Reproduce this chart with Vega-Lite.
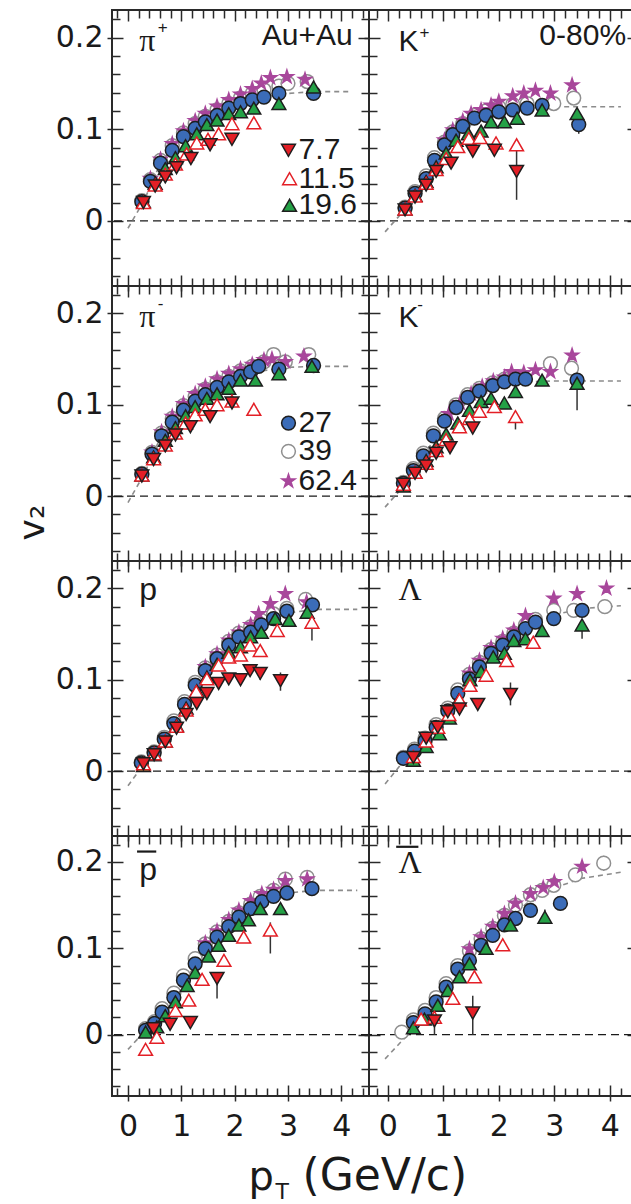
{
"$schema": "https://vega.github.io/schema/vega-lite/v6.json",
"background": "white",
"padding": {"left": 13, "top": 8, "right": 0, "bottom": 0},
"config": {
 "view": {"stroke": "#2a2a2a", "strokeWidth": 2},
 "axis": {"domain": false, "grid": false, "labels": false, "tickColor": "#2a2a2a", "tickWidth": 1.5, "labelFont": "DejaVu Sans", "labelFontSize": 30, "labelColor": "#1a1a1a", "labelOverlap": false, "labelFlush": false, "labelBound": false, "titleFont": "DejaVu Sans", "titleFontWeight": "normal", "titleColor": "#1a1a1a"}
},
"datasets": {
 "zero": [{"y": 0}],
 "pts": [
  {"panel":"pip","e":"39","x":0.26,"y":0.022},{"panel":"pip","e":"39","x":0.42,"y":0.045},{"panel":"pip","e":"39","x":0.61,"y":0.066},{"panel":"pip","e":"39","x":0.83,"y":0.082},{"panel":"pip","e":"39","x":1.04,"y":0.096},{"panel":"pip","e":"39","x":1.26,"y":0.106},{"panel":"pip","e":"39","x":1.45,"y":0.114},{"panel":"pip","e":"39","x":1.67,"y":0.121},{"panel":"pip","e":"39","x":1.89,"y":0.128},{"panel":"pip","e":"39","x":2.11,"y":0.134},{"panel":"pip","e":"39","x":2.33,"y":0.139},{"panel":"pip","e":"39","x":2.55,"y":0.143},{"panel":"pip","e":"39","x":2.83,"y":0.147},{"panel":"pip","e":"39","x":3.0,"y":0.150},{"panel":"pip","e":"39","x":3.36,"y":0.152},
  {"panel":"pip","e":"62.4","x":0.42,"y":0.046},{"panel":"pip","e":"62.4","x":0.61,"y":0.067},{"panel":"pip","e":"62.4","x":0.83,"y":0.084},{"panel":"pip","e":"62.4","x":1.04,"y":0.098},{"panel":"pip","e":"62.4","x":1.26,"y":0.109},{"panel":"pip","e":"62.4","x":1.45,"y":0.117},{"panel":"pip","e":"62.4","x":1.67,"y":0.125},{"panel":"pip","e":"62.4","x":1.89,"y":0.132},{"panel":"pip","e":"62.4","x":2.11,"y":0.138},{"panel":"pip","e":"62.4","x":2.33,"y":0.144},{"panel":"pip","e":"62.4","x":2.5,"y":0.150},{"panel":"pip","e":"62.4","x":2.67,"y":0.156},{"panel":"pip","e":"62.4","x":2.98,"y":0.157},{"panel":"pip","e":"62.4","x":3.32,"y":0.154},
  {"panel":"pip","e":"27","x":0.26,"y":0.021},{"panel":"pip","e":"27","x":0.42,"y":0.043},{"panel":"pip","e":"27","x":0.61,"y":0.063},{"panel":"pip","e":"27","x":0.83,"y":0.077},{"panel":"pip","e":"27","x":1.04,"y":0.092},{"panel":"pip","e":"27","x":1.26,"y":0.101},{"panel":"pip","e":"27","x":1.45,"y":0.108},{"panel":"pip","e":"27","x":1.67,"y":0.115},{"panel":"pip","e":"27","x":1.89,"y":0.123},{"panel":"pip","e":"27","x":2.11,"y":0.128},{"panel":"pip","e":"27","x":2.33,"y":0.132},{"panel":"pip","e":"27","x":2.55,"y":0.135},{"panel":"pip","e":"27","x":2.83,"y":0.139},{"panel":"pip","e":"27","x":3.48,"y":0.139},
  {"panel":"pip","e":"19.6","x":0.29,"y":0.021},{"panel":"pip","e":"19.6","x":0.51,"y":0.041},{"panel":"pip","e":"19.6","x":0.70,"y":0.057},{"panel":"pip","e":"19.6","x":0.89,"y":0.069},{"panel":"pip","e":"19.6","x":1.08,"y":0.082},{"panel":"pip","e":"19.6","x":1.29,"y":0.095},{"panel":"pip","e":"19.6","x":1.48,"y":0.105},{"panel":"pip","e":"19.6","x":1.67,"y":0.110},{"panel":"pip","e":"19.6","x":1.89,"y":0.117},{"panel":"pip","e":"19.6","x":2.11,"y":0.119},{"panel":"pip","e":"19.6","x":2.36,"y":0.123},{"panel":"pip","e":"19.6","x":2.83,"y":0.128},{"panel":"pip","e":"19.6","x":3.48,"y":0.146},
  {"panel":"pip","e":"11.5","x":0.29,"y":0.020},{"panel":"pip","e":"11.5","x":0.51,"y":0.039},{"panel":"pip","e":"11.5","x":0.70,"y":0.051},{"panel":"pip","e":"11.5","x":0.89,"y":0.062},{"panel":"pip","e":"11.5","x":1.10,"y":0.073},{"panel":"pip","e":"11.5","x":1.29,"y":0.085},{"panel":"pip","e":"11.5","x":1.50,"y":0.089},{"panel":"pip","e":"11.5","x":1.70,"y":0.095},{"panel":"pip","e":"11.5","x":1.95,"y":0.106},{"panel":"pip","e":"11.5","x":2.36,"y":0.107},
  {"panel":"pip","e":"7.7","x":0.29,"y":0.020},{"panel":"pip","e":"7.7","x":0.51,"y":0.038},{"panel":"pip","e":"7.7","x":0.70,"y":0.048},{"panel":"pip","e":"7.7","x":0.91,"y":0.058},{"panel":"pip","e":"7.7","x":1.18,"y":0.068},{"panel":"pip","e":"7.7","x":1.54,"y":0.083},{"panel":"pip","e":"7.7","x":1.95,"y":0.089},

  {"panel":"kp","e":"39","x":0.31,"y":0.015},{"panel":"kp","e":"39","x":0.49,"y":0.032},{"panel":"kp","e":"39","x":0.69,"y":0.049},{"panel":"kp","e":"39","x":0.84,"y":0.069},{"panel":"kp","e":"39","x":1.02,"y":0.086},{"panel":"kp","e":"39","x":1.17,"y":0.097},{"panel":"kp","e":"39","x":1.35,"y":0.106},{"panel":"kp","e":"39","x":1.56,"y":0.115},{"panel":"kp","e":"39","x":1.77,"y":0.120},{"panel":"kp","e":"39","x":2.0,"y":0.124},{"panel":"kp","e":"39","x":2.25,"y":0.127},{"panel":"kp","e":"39","x":2.51,"y":0.128},{"panel":"kp","e":"39","x":2.99,"y":0.128},{"panel":"kp","e":"39","x":3.35,"y":0.134},
  {"panel":"kp","e":"62.4","x":1.02,"y":0.088},{"panel":"kp","e":"62.4","x":1.17,"y":0.099},{"panel":"kp","e":"62.4","x":1.35,"y":0.109},{"panel":"kp","e":"62.4","x":1.5,"y":0.117},{"panel":"kp","e":"62.4","x":1.68,"y":0.121},{"panel":"kp","e":"62.4","x":1.86,"y":0.126},{"panel":"kp","e":"62.4","x":2.0,"y":0.130},{"panel":"kp","e":"62.4","x":2.25,"y":0.136},{"panel":"kp","e":"62.4","x":2.45,"y":0.139},{"panel":"kp","e":"62.4","x":2.66,"y":0.142},{"panel":"kp","e":"62.4","x":2.93,"y":0.139},{"panel":"kp","e":"62.4","x":3.32,"y":0.148},
  {"panel":"kp","e":"27","x":0.31,"y":0.014},{"panel":"kp","e":"27","x":0.49,"y":0.030},{"panel":"kp","e":"27","x":0.69,"y":0.046},{"panel":"kp","e":"27","x":0.84,"y":0.066},{"panel":"kp","e":"27","x":1.02,"y":0.083},{"panel":"kp","e":"27","x":1.17,"y":0.094},{"panel":"kp","e":"27","x":1.35,"y":0.103},{"panel":"kp","e":"27","x":1.56,"y":0.112},{"panel":"kp","e":"27","x":1.77,"y":0.115},{"panel":"kp","e":"27","x":2.0,"y":0.119},{"panel":"kp","e":"27","x":2.25,"y":0.121},{"panel":"kp","e":"27","x":2.51,"y":0.123},{"panel":"kp","e":"27","x":2.78,"y":0.126},{"panel":"kp","e":"27","x":3.44,"y":0.105},
  {"panel":"kp","e":"19.6","x":0.31,"y":0.013},{"panel":"kp","e":"19.6","x":0.49,"y":0.028},{"panel":"kp","e":"19.6","x":0.69,"y":0.043},{"panel":"kp","e":"19.6","x":0.87,"y":0.059},{"panel":"kp","e":"19.6","x":1.05,"y":0.074},{"panel":"kp","e":"19.6","x":1.23,"y":0.088},{"panel":"kp","e":"19.6","x":1.45,"y":0.095},{"panel":"kp","e":"19.6","x":1.68,"y":0.098},{"panel":"kp","e":"19.6","x":1.86,"y":0.108},{"panel":"kp","e":"19.6","x":2.10,"y":0.108},{"panel":"kp","e":"19.6","x":2.33,"y":0.112},{"panel":"kp","e":"19.6","x":2.78,"y":0.121},{"panel":"kp","e":"19.6","x":3.41,"y":0.117},
  {"panel":"kp","e":"11.5","x":0.31,"y":0.013},{"panel":"kp","e":"11.5","x":0.49,"y":0.027},{"panel":"kp","e":"11.5","x":0.69,"y":0.041},{"panel":"kp","e":"11.5","x":0.87,"y":0.056},{"panel":"kp","e":"11.5","x":1.05,"y":0.068},{"panel":"kp","e":"11.5","x":1.26,"y":0.081},{"panel":"kp","e":"11.5","x":1.46,"y":0.090},{"panel":"kp","e":"11.5","x":1.66,"y":0.091},{"panel":"kp","e":"11.5","x":1.95,"y":0.085},{"panel":"kp","e":"11.5","x":2.32,"y":0.083},
  {"panel":"kp","e":"7.7","x":0.31,"y":0.012},{"panel":"kp","e":"7.7","x":0.49,"y":0.026},{"panel":"kp","e":"7.7","x":0.69,"y":0.039},{"panel":"kp","e":"7.7","x":0.87,"y":0.054},{"panel":"kp","e":"7.7","x":1.14,"y":0.063},{"panel":"kp","e":"7.7","x":1.53,"y":0.076},{"panel":"kp","e":"7.7","x":1.92,"y":0.077},{"panel":"kp","e":"7.7","x":2.32,"y":0.054},

  {"panel":"pim","e":"39","x":0.26,"y":0.025},{"panel":"pim","e":"39","x":0.45,"y":0.048},{"panel":"pim","e":"39","x":0.63,"y":0.069},{"panel":"pim","e":"39","x":0.83,"y":0.085},{"panel":"pim","e":"39","x":1.04,"y":0.099},{"panel":"pim","e":"39","x":1.26,"y":0.109},{"panel":"pim","e":"39","x":1.45,"y":0.117},{"panel":"pim","e":"39","x":1.67,"y":0.125},{"panel":"pim","e":"39","x":1.89,"y":0.131},{"panel":"pim","e":"39","x":2.11,"y":0.137},{"panel":"pim","e":"39","x":2.33,"y":0.142},{"panel":"pim","e":"39","x":2.55,"y":0.147},{"panel":"pim","e":"39","x":2.73,"y":0.155},{"panel":"pim","e":"39","x":2.95,"y":0.147},{"panel":"pim","e":"39","x":3.39,"y":0.155},
  {"panel":"pim","e":"62.4","x":0.45,"y":0.048},{"panel":"pim","e":"62.4","x":0.63,"y":0.070},{"panel":"pim","e":"62.4","x":0.83,"y":0.087},{"panel":"pim","e":"62.4","x":1.04,"y":0.101},{"panel":"pim","e":"62.4","x":1.26,"y":0.112},{"panel":"pim","e":"62.4","x":1.45,"y":0.120},{"panel":"pim","e":"62.4","x":1.67,"y":0.128},{"panel":"pim","e":"62.4","x":1.89,"y":0.134},{"panel":"pim","e":"62.4","x":2.11,"y":0.139},{"panel":"pim","e":"62.4","x":2.33,"y":0.144},{"panel":"pim","e":"62.4","x":2.55,"y":0.149},{"panel":"pim","e":"62.4","x":2.70,"y":0.150},{"panel":"pim","e":"62.4","x":2.95,"y":0.147},{"panel":"pim","e":"62.4","x":3.30,"y":0.153},
  {"panel":"pim","e":"27","x":0.26,"y":0.024},{"panel":"pim","e":"27","x":0.45,"y":0.046},{"panel":"pim","e":"27","x":0.63,"y":0.066},{"panel":"pim","e":"27","x":0.83,"y":0.081},{"panel":"pim","e":"27","x":1.04,"y":0.094},{"panel":"pim","e":"27","x":1.26,"y":0.104},{"panel":"pim","e":"27","x":1.45,"y":0.111},{"panel":"pim","e":"27","x":1.67,"y":0.119},{"panel":"pim","e":"27","x":1.89,"y":0.125},{"panel":"pim","e":"27","x":2.11,"y":0.131},{"panel":"pim","e":"27","x":2.30,"y":0.136},{"panel":"pim","e":"27","x":2.45,"y":0.142},{"panel":"pim","e":"27","x":2.83,"y":0.139},{"panel":"pim","e":"27","x":3.48,"y":0.143},
  {"panel":"pim","e":"19.6","x":0.26,"y":0.023},{"panel":"pim","e":"19.6","x":0.48,"y":0.043},{"panel":"pim","e":"19.6","x":0.70,"y":0.061},{"panel":"pim","e":"19.6","x":0.89,"y":0.075},{"panel":"pim","e":"19.6","x":1.08,"y":0.088},{"panel":"pim","e":"19.6","x":1.26,"y":0.098},{"panel":"pim","e":"19.6","x":1.48,"y":0.107},{"panel":"pim","e":"19.6","x":1.67,"y":0.112},{"panel":"pim","e":"19.6","x":1.89,"y":0.118},{"panel":"pim","e":"19.6","x":2.11,"y":0.127},{"panel":"pim","e":"19.6","x":2.39,"y":0.127},{"panel":"pim","e":"19.6","x":2.83,"y":0.134},{"panel":"pim","e":"19.6","x":3.45,"y":0.142},
  {"panel":"pim","e":"11.5","x":0.26,"y":0.023},{"panel":"pim","e":"11.5","x":0.48,"y":0.041},{"panel":"pim","e":"11.5","x":0.70,"y":0.056},{"panel":"pim","e":"11.5","x":0.89,"y":0.069},{"panel":"pim","e":"11.5","x":1.08,"y":0.080},{"panel":"pim","e":"11.5","x":1.26,"y":0.089},{"panel":"pim","e":"11.5","x":1.45,"y":0.095},{"panel":"pim","e":"11.5","x":1.67,"y":0.100},{"panel":"pim","e":"11.5","x":1.95,"y":0.104},{"panel":"pim","e":"11.5","x":2.36,"y":0.095},
  {"panel":"pim","e":"7.7","x":0.26,"y":0.022},{"panel":"pim","e":"7.7","x":0.48,"y":0.040},{"panel":"pim","e":"7.7","x":0.70,"y":0.055},{"panel":"pim","e":"7.7","x":0.89,"y":0.067},{"panel":"pim","e":"7.7","x":1.17,"y":0.076},{"panel":"pim","e":"7.7","x":1.54,"y":0.087},{"panel":"pim","e":"7.7","x":1.95,"y":0.102},

  {"panel":"km","e":"39","x":0.28,"y":0.015},{"panel":"km","e":"39","x":0.46,"y":0.030},{"panel":"km","e":"39","x":0.64,"y":0.047},{"panel":"km","e":"39","x":0.82,"y":0.069},{"panel":"km","e":"39","x":1.02,"y":0.085},{"panel":"km","e":"39","x":1.23,"y":0.100},{"panel":"km","e":"39","x":1.44,"y":0.111},{"panel":"km","e":"39","x":1.65,"y":0.118},{"panel":"km","e":"39","x":1.89,"y":0.124},{"panel":"km","e":"39","x":2.10,"y":0.128},{"panel":"km","e":"39","x":2.40,"y":0.131},{"panel":"km","e":"39","x":2.93,"y":0.145},{"panel":"km","e":"39","x":3.31,"y":0.140},
  {"panel":"km","e":"62.4","x":1.1,"y":0.090},{"panel":"km","e":"62.4","x":1.3,"y":0.102},{"panel":"km","e":"62.4","x":1.5,"y":0.112},{"panel":"km","e":"62.4","x":1.7,"y":0.120},{"panel":"km","e":"62.4","x":1.9,"y":0.126},{"panel":"km","e":"62.4","x":2.1,"y":0.130},{"panel":"km","e":"62.4","x":2.23,"y":0.136},{"panel":"km","e":"62.4","x":2.45,"y":0.135},{"panel":"km","e":"62.4","x":2.66,"y":0.138},{"panel":"km","e":"62.4","x":2.93,"y":0.136},{"panel":"km","e":"62.4","x":3.32,"y":0.154},
  {"panel":"km","e":"27","x":0.28,"y":0.014},{"panel":"km","e":"27","x":0.46,"y":0.028},{"panel":"km","e":"27","x":0.64,"y":0.044},{"panel":"km","e":"27","x":0.82,"y":0.066},{"panel":"km","e":"27","x":1.02,"y":0.082},{"panel":"km","e":"27","x":1.23,"y":0.097},{"panel":"km","e":"27","x":1.44,"y":0.108},{"panel":"km","e":"27","x":1.65,"y":0.115},{"panel":"km","e":"27","x":1.89,"y":0.121},{"panel":"km","e":"27","x":2.10,"y":0.125},{"panel":"km","e":"27","x":2.30,"y":0.128},{"panel":"km","e":"27","x":2.48,"y":0.128},{"panel":"km","e":"27","x":3.41,"y":0.127},
  {"panel":"km","e":"19.6","x":0.28,"y":0.011},{"panel":"km","e":"19.6","x":0.49,"y":0.026},{"panel":"km","e":"19.6","x":0.69,"y":0.039},{"panel":"km","e":"19.6","x":0.87,"y":0.054},{"panel":"km","e":"19.6","x":1.05,"y":0.068},{"panel":"km","e":"19.6","x":1.26,"y":0.080},{"panel":"km","e":"19.6","x":1.47,"y":0.094},{"panel":"km","e":"19.6","x":1.68,"y":0.1035},{"panel":"km","e":"19.6","x":1.86,"y":0.107},{"panel":"km","e":"19.6","x":2.10,"y":0.102},{"panel":"km","e":"19.6","x":2.30,"y":0.1145},{"panel":"km","e":"19.6","x":2.78,"y":0.127},{"panel":"km","e":"19.6","x":3.41,"y":0.1235},
  {"panel":"km","e":"11.5","x":0.28,"y":0.013},{"panel":"km","e":"11.5","x":0.49,"y":0.026},{"panel":"km","e":"11.5","x":0.69,"y":0.036},{"panel":"km","e":"11.5","x":0.87,"y":0.050},{"panel":"km","e":"11.5","x":1.05,"y":0.062},{"panel":"km","e":"11.5","x":1.29,"y":0.076},{"panel":"km","e":"11.5","x":1.47,"y":0.085},{"panel":"km","e":"11.5","x":1.65,"y":0.093},{"panel":"km","e":"11.5","x":1.92,"y":0.098},{"panel":"km","e":"11.5","x":2.30,"y":0.087},
  {"panel":"km","e":"7.7","x":0.28,"y":0.013},{"panel":"km","e":"7.7","x":0.49,"y":0.025},{"panel":"km","e":"7.7","x":0.69,"y":0.033},{"panel":"km","e":"7.7","x":0.87,"y":0.047},{"panel":"km","e":"7.7","x":1.12,"y":0.053},{"panel":"km","e":"7.7","x":1.53,"y":0.0745},

  {"panel":"p","e":"39","x":0.25,"y":0.010},{"panel":"p","e":"39","x":0.49,"y":0.021},{"panel":"p","e":"39","x":0.68,"y":0.037},{"panel":"p","e":"39","x":0.86,"y":0.055},{"panel":"p","e":"39","x":1.06,"y":0.076},{"panel":"p","e":"39","x":1.26,"y":0.097},{"panel":"p","e":"39","x":1.45,"y":0.113},{"panel":"p","e":"39","x":1.67,"y":0.127},{"panel":"p","e":"39","x":1.89,"y":0.142},{"panel":"p","e":"39","x":2.08,"y":0.151},{"panel":"p","e":"39","x":2.30,"y":0.158},{"panel":"p","e":"39","x":2.50,"y":0.165},{"panel":"p","e":"39","x":2.73,"y":0.172},{"panel":"p","e":"39","x":2.98,"y":0.178},{"panel":"p","e":"39","x":3.33,"y":0.188},
  {"panel":"p","e":"62.4","x":1.45,"y":0.114},{"panel":"p","e":"62.4","x":1.67,"y":0.128},{"panel":"p","e":"62.4","x":1.89,"y":0.143},{"panel":"p","e":"62.4","x":2.08,"y":0.152},{"panel":"p","e":"62.4","x":2.30,"y":0.160},{"panel":"p","e":"62.4","x":2.45,"y":0.172},{"panel":"p","e":"62.4","x":2.67,"y":0.183},{"panel":"p","e":"62.4","x":2.95,"y":0.194},{"panel":"p","e":"62.4","x":3.35,"y":0.185},
  {"panel":"p","e":"27","x":0.25,"y":0.009},{"panel":"p","e":"27","x":0.49,"y":0.020},{"panel":"p","e":"27","x":0.68,"y":0.035},{"panel":"p","e":"27","x":0.86,"y":0.052},{"panel":"p","e":"27","x":1.06,"y":0.073},{"panel":"p","e":"27","x":1.26,"y":0.094},{"panel":"p","e":"27","x":1.45,"y":0.110},{"panel":"p","e":"27","x":1.67,"y":0.123},{"panel":"p","e":"27","x":1.89,"y":0.138},{"panel":"p","e":"27","x":2.08,"y":0.147},{"panel":"p","e":"27","x":2.30,"y":0.152},{"panel":"p","e":"27","x":2.50,"y":0.160},{"panel":"p","e":"27","x":2.73,"y":0.167},{"panel":"p","e":"27","x":2.98,"y":0.175},{"panel":"p","e":"27","x":3.46,"y":0.182},
  {"panel":"p","e":"19.6","x":0.29,"y":0.006},{"panel":"p","e":"19.6","x":0.49,"y":0.018},{"panel":"p","e":"19.6","x":0.70,"y":0.033},{"panel":"p","e":"19.6","x":0.91,"y":0.050},{"panel":"p","e":"19.6","x":1.09,"y":0.069},{"panel":"p","e":"19.6","x":1.29,"y":0.088},{"panel":"p","e":"19.6","x":1.48,"y":0.103},{"panel":"p","e":"19.6","x":1.67,"y":0.117},{"panel":"p","e":"19.6","x":1.89,"y":0.130},{"panel":"p","e":"19.6","x":2.11,"y":0.136},{"panel":"p","e":"19.6","x":2.30,"y":0.147},{"panel":"p","e":"19.6","x":2.50,"y":0.152},{"panel":"p","e":"19.6","x":2.76,"y":0.167},{"panel":"p","e":"19.6","x":3.02,"y":0.165},{"panel":"p","e":"19.6","x":3.36,"y":0.174},
  {"panel":"p","e":"11.5","x":0.29,"y":0.008},{"panel":"p","e":"11.5","x":0.49,"y":0.019},{"panel":"p","e":"11.5","x":0.70,"y":0.033},{"panel":"p","e":"11.5","x":0.91,"y":0.049},{"panel":"p","e":"11.5","x":1.09,"y":0.067},{"panel":"p","e":"11.5","x":1.28,"y":0.087},{"panel":"p","e":"11.5","x":1.48,"y":0.101},{"panel":"p","e":"11.5","x":1.70,"y":0.116},{"panel":"p","e":"11.5","x":1.89,"y":0.125},{"panel":"p","e":"11.5","x":2.11,"y":0.127},{"panel":"p","e":"11.5","x":2.29,"y":0.138},{"panel":"p","e":"11.5","x":2.48,"y":0.132},{"panel":"p","e":"11.5","x":2.80,"y":0.154},{"panel":"p","e":"11.5","x":3.45,"y":0.163},
  {"panel":"p","e":"7.7","x":0.29,"y":0.008},{"panel":"p","e":"7.7","x":0.49,"y":0.018},{"panel":"p","e":"7.7","x":0.70,"y":0.032},{"panel":"p","e":"7.7","x":0.91,"y":0.047},{"panel":"p","e":"7.7","x":1.09,"y":0.062},{"panel":"p","e":"7.7","x":1.29,"y":0.074},{"panel":"p","e":"7.7","x":1.48,"y":0.085},{"panel":"p","e":"7.7","x":1.70,"y":0.096},{"panel":"p","e":"7.7","x":1.89,"y":0.101},{"panel":"p","e":"7.7","x":2.11,"y":0.100},{"panel":"p","e":"7.7","x":2.29,"y":0.110},{"panel":"p","e":"7.7","x":2.48,"y":0.107},{"panel":"p","e":"7.7","x":2.86,"y":0.099},

  {"panel":"lam","e":"39","x":0.28,"y":0.015},{"panel":"lam","e":"39","x":0.48,"y":0.024},{"panel":"lam","e":"39","x":0.67,"y":0.036},{"panel":"lam","e":"39","x":0.87,"y":0.051},{"panel":"lam","e":"39","x":1.08,"y":0.069},{"panel":"lam","e":"39","x":1.26,"y":0.089},{"panel":"lam","e":"39","x":1.47,"y":0.106},{"panel":"lam","e":"39","x":1.65,"y":0.119},{"panel":"lam","e":"39","x":1.86,"y":0.133},{"panel":"lam","e":"39","x":2.07,"y":0.142},{"panel":"lam","e":"39","x":2.27,"y":0.151},{"panel":"lam","e":"39","x":2.48,"y":0.160},{"panel":"lam","e":"39","x":2.66,"y":0.166},{"panel":"lam","e":"39","x":2.99,"y":0.176},{"panel":"lam","e":"39","x":3.35,"y":0.176},{"panel":"lam","e":"39","x":3.91,"y":0.180},
  {"panel":"lam","e":"62.4","x":1.47,"y":0.107},{"panel":"lam","e":"62.4","x":1.65,"y":0.121},{"panel":"lam","e":"62.4","x":1.86,"y":0.135},{"panel":"lam","e":"62.4","x":2.07,"y":0.145},{"panel":"lam","e":"62.4","x":2.27,"y":0.154},{"panel":"lam","e":"62.4","x":2.48,"y":0.170},{"panel":"lam","e":"62.4","x":2.99,"y":0.189},{"panel":"lam","e":"62.4","x":3.41,"y":0.194},{"panel":"lam","e":"62.4","x":3.94,"y":0.200},
  {"panel":"lam","e":"27","x":0.28,"y":0.014},{"panel":"lam","e":"27","x":0.48,"y":0.022},{"panel":"lam","e":"27","x":0.67,"y":0.033},{"panel":"lam","e":"27","x":0.87,"y":0.048},{"panel":"lam","e":"27","x":1.08,"y":0.066},{"panel":"lam","e":"27","x":1.26,"y":0.085},{"panel":"lam","e":"27","x":1.47,"y":0.101},{"panel":"lam","e":"27","x":1.65,"y":0.114},{"panel":"lam","e":"27","x":1.86,"y":0.129},{"panel":"lam","e":"27","x":2.07,"y":0.138},{"panel":"lam","e":"27","x":2.27,"y":0.147},{"panel":"lam","e":"27","x":2.48,"y":0.156},{"panel":"lam","e":"27","x":2.66,"y":0.163},{"panel":"lam","e":"27","x":2.99,"y":0.167},{"panel":"lam","e":"27","x":3.50,"y":0.176},
  {"panel":"lam","e":"19.6","x":0.46,"y":0.012},{"panel":"lam","e":"19.6","x":0.69,"y":0.027},{"panel":"lam","e":"19.6","x":0.93,"y":0.041},{"panel":"lam","e":"19.6","x":1.11,"y":0.058},{"panel":"lam","e":"19.6","x":1.28,"y":0.078},{"panel":"lam","e":"19.6","x":1.48,"y":0.100},{"panel":"lam","e":"19.6","x":1.68,"y":0.109},{"panel":"lam","e":"19.6","x":1.90,"y":0.125},{"panel":"lam","e":"19.6","x":2.10,"y":0.129},{"panel":"lam","e":"19.6","x":2.27,"y":0.143},{"panel":"lam","e":"19.6","x":2.48,"y":0.145},{"panel":"lam","e":"19.6","x":2.78,"y":0.154},{"panel":"lam","e":"19.6","x":3.50,"y":0.160},
  {"panel":"lam","e":"11.5","x":0.46,"y":0.016},{"panel":"lam","e":"11.5","x":0.69,"y":0.033},{"panel":"lam","e":"11.5","x":0.90,"y":0.048},{"panel":"lam","e":"11.5","x":1.10,"y":0.062},{"panel":"lam","e":"11.5","x":1.29,"y":0.078},{"panel":"lam","e":"11.5","x":1.48,"y":0.094},{"panel":"lam","e":"11.5","x":1.77,"y":0.105},{"panel":"lam","e":"11.5","x":2.14,"y":0.121},{"panel":"lam","e":"11.5","x":2.62,"y":0.141},
  {"panel":"lam","e":"7.7","x":0.46,"y":0.015},{"panel":"lam","e":"7.7","x":0.69,"y":0.036},{"panel":"lam","e":"7.7","x":0.90,"y":0.048},{"panel":"lam","e":"7.7","x":1.08,"y":0.065},{"panel":"lam","e":"7.7","x":1.29,"y":0.068},{"panel":"lam","e":"7.7","x":1.62,"y":0.073},{"panel":"lam","e":"7.7","x":2.21,"y":0.084},

  {"panel":"pbar","e":"39","x":0.33,"y":0.007},{"panel":"pbar","e":"39","x":0.50,"y":0.015},{"panel":"pbar","e":"39","x":0.64,"y":0.030},{"panel":"pbar","e":"39","x":0.86,"y":0.048},{"panel":"pbar","e":"39","x":1.04,"y":0.068},{"panel":"pbar","e":"39","x":1.26,"y":0.088},{"panel":"pbar","e":"39","x":1.45,"y":0.105},{"panel":"pbar","e":"39","x":1.67,"y":0.119},{"panel":"pbar","e":"39","x":1.89,"y":0.131},{"panel":"pbar","e":"39","x":2.08,"y":0.141},{"panel":"pbar","e":"39","x":2.30,"y":0.151},{"panel":"pbar","e":"39","x":2.48,"y":0.160},{"panel":"pbar","e":"39","x":2.73,"y":0.167},{"panel":"pbar","e":"39","x":2.95,"y":0.180},{"panel":"pbar","e":"39","x":3.36,"y":0.182},
  {"panel":"pbar","e":"62.4","x":1.45,"y":0.106},{"panel":"pbar","e":"62.4","x":1.67,"y":0.120},{"panel":"pbar","e":"62.4","x":1.89,"y":0.133},{"panel":"pbar","e":"62.4","x":2.08,"y":0.144},{"panel":"pbar","e":"62.4","x":2.30,"y":0.155},{"panel":"pbar","e":"62.4","x":2.51,"y":0.163},{"panel":"pbar","e":"62.4","x":2.73,"y":0.168},{"panel":"pbar","e":"62.4","x":2.95,"y":0.178},{"panel":"pbar","e":"62.4","x":3.36,"y":0.180},
  {"panel":"pbar","e":"27","x":0.33,"y":0.005},{"panel":"pbar","e":"27","x":0.50,"y":0.013},{"panel":"pbar","e":"27","x":0.64,"y":0.026},{"panel":"pbar","e":"27","x":0.86,"y":0.043},{"panel":"pbar","e":"27","x":1.04,"y":0.063},{"panel":"pbar","e":"27","x":1.26,"y":0.082},{"panel":"pbar","e":"27","x":1.45,"y":0.0997},{"panel":"pbar","e":"27","x":1.67,"y":0.113},{"panel":"pbar","e":"27","x":1.89,"y":0.125},{"panel":"pbar","e":"27","x":2.08,"y":0.136},{"panel":"pbar","e":"27","x":2.30,"y":0.146},{"panel":"pbar","e":"27","x":2.51,"y":0.154},{"panel":"pbar","e":"27","x":2.73,"y":0.160},{"panel":"pbar","e":"27","x":2.98,"y":0.164},{"panel":"pbar","e":"27","x":3.45,"y":0.169},
  {"panel":"pbar","e":"19.6","x":0.33,"y":0.003},{"panel":"pbar","e":"19.6","x":0.54,"y":0.009},{"panel":"pbar","e":"19.6","x":0.70,"y":0.022},{"panel":"pbar","e":"19.6","x":0.89,"y":0.038},{"panel":"pbar","e":"19.6","x":1.11,"y":0.057},{"panel":"pbar","e":"19.6","x":1.26,"y":0.072},{"panel":"pbar","e":"19.6","x":1.51,"y":0.091},{"panel":"pbar","e":"19.6","x":1.70,"y":0.1035},{"panel":"pbar","e":"19.6","x":1.89,"y":0.115},{"panel":"pbar","e":"19.6","x":2.08,"y":0.127},{"panel":"pbar","e":"19.6","x":2.26,"y":0.133},{"panel":"pbar","e":"19.6","x":2.48,"y":0.146},{"panel":"pbar","e":"19.6","x":2.86,"y":0.146},
  {"panel":"pbar","e":"11.5","x":0.33,"y":-0.017},{"panel":"pbar","e":"11.5","x":0.54,"y":-0.003},{"panel":"pbar","e":"11.5","x":0.89,"y":0.028},{"panel":"pbar","e":"11.5","x":1.14,"y":0.040},{"panel":"pbar","e":"11.5","x":1.39,"y":0.064},{"panel":"pbar","e":"11.5","x":1.80,"y":0.086},{"panel":"pbar","e":"11.5","x":2.17,"y":0.113},{"panel":"pbar","e":"11.5","x":2.67,"y":0.121},
  {"panel":"pbar","e":"7.7","x":0.48,"y":0.007},{"panel":"pbar","e":"7.7","x":0.79,"y":0.012},{"panel":"pbar","e":"7.7","x":1.17,"y":0.014},{"panel":"pbar","e":"7.7","x":1.67,"y":0.065},

  {"panel":"lbar","e":"39","x":0.25,"y":0.003},{"panel":"lbar","e":"39","x":0.46,"y":0.017},{"panel":"lbar","e":"39","x":0.67,"y":0.028},{"panel":"lbar","e":"39","x":0.87,"y":0.043},{"panel":"lbar","e":"39","x":1.05,"y":0.059},{"panel":"lbar","e":"39","x":1.26,"y":0.080},{"panel":"lbar","e":"39","x":1.47,"y":0.097},{"panel":"lbar","e":"39","x":1.68,"y":0.111},{"panel":"lbar","e":"39","x":1.89,"y":0.123},{"panel":"lbar","e":"39","x":2.10,"y":0.138},{"panel":"lbar","e":"39","x":2.30,"y":0.150},{"panel":"lbar","e":"39","x":2.57,"y":0.162},{"panel":"lbar","e":"39","x":2.78,"y":0.167},{"panel":"lbar","e":"39","x":2.99,"y":0.173},{"panel":"lbar","e":"39","x":3.38,"y":0.185},{"panel":"lbar","e":"39","x":3.89,"y":0.1985},
  {"panel":"lbar","e":"62.4","x":1.47,"y":0.099},{"panel":"lbar","e":"62.4","x":1.68,"y":0.113},{"panel":"lbar","e":"62.4","x":1.89,"y":0.125},{"panel":"lbar","e":"62.4","x":2.10,"y":0.140},{"panel":"lbar","e":"62.4","x":2.30,"y":0.152},{"panel":"lbar","e":"62.4","x":2.57,"y":0.163},{"panel":"lbar","e":"62.4","x":2.80,"y":0.170},{"panel":"lbar","e":"62.4","x":3.0,"y":0.177},{"panel":"lbar","e":"62.4","x":3.50,"y":0.1946},
  {"panel":"lbar","e":"27","x":0.46,"y":0.014},{"panel":"lbar","e":"27","x":0.67,"y":0.024},{"panel":"lbar","e":"27","x":0.87,"y":0.038},{"panel":"lbar","e":"27","x":1.05,"y":0.055},{"panel":"lbar","e":"27","x":1.26,"y":0.076},{"panel":"lbar","e":"27","x":1.47,"y":0.086},{"panel":"lbar","e":"27","x":1.68,"y":0.1035},{"panel":"lbar","e":"27","x":1.89,"y":0.115},{"panel":"lbar","e":"27","x":2.10,"y":0.127},{"panel":"lbar","e":"27","x":2.30,"y":0.1345},{"panel":"lbar","e":"27","x":2.57,"y":0.144},{"panel":"lbar","e":"27","x":3.11,"y":0.152},
  {"panel":"lbar","e":"19.6","x":0.46,"y":0.008},{"panel":"lbar","e":"19.6","x":0.66,"y":0.018},{"panel":"lbar","e":"19.6","x":0.90,"y":0.034},{"panel":"lbar","e":"19.6","x":1.08,"y":0.051},{"panel":"lbar","e":"19.6","x":1.29,"y":0.067},{"panel":"lbar","e":"19.6","x":1.47,"y":0.082},{"panel":"lbar","e":"19.6","x":1.77,"y":0.100},{"panel":"lbar","e":"19.6","x":2.21,"y":0.127},{"panel":"lbar","e":"19.6","x":2.83,"y":0.136},
  {"panel":"lbar","e":"11.5","x":0.60,"y":0.018},{"panel":"lbar","e":"11.5","x":0.84,"y":0.020},{"panel":"lbar","e":"11.5","x":1.17,"y":0.042},{"panel":"lbar","e":"11.5","x":1.56,"y":0.067},{"panel":"lbar","e":"11.5","x":2.07,"y":0.104},
  {"panel":"lbar","e":"7.7","x":0.84,"y":0.016},{"panel":"lbar","e":"7.7","x":1.53,"y":0.025}
 ],
 "err": [
  {"panel":"pip","x":3.48,"lo":0.138,"hi":0.152},
  {"panel":"kp","x":2.32,"lo":0.023,"hi":0.085},{"panel":"kp","x":3.44,"lo":0.095,"hi":0.115},
  {"panel":"pim","x":3.45,"lo":0.137,"hi":0.148},
  {"panel":"km","x":3.41,"lo":0.094,"hi":0.14},{"panel":"km","x":2.30,"lo":0.073,"hi":0.09},
  {"panel":"p","x":2.86,"lo":0.088,"hi":0.108},{"panel":"p","x":2.48,"lo":0.100,"hi":0.114},{"panel":"p","x":3.45,"lo":0.143,"hi":0.166},
  {"panel":"lam","x":2.21,"lo":0.072,"hi":0.097},{"panel":"lam","x":3.50,"lo":0.145,"hi":0.165},
  {"panel":"pbar","x":1.67,"lo":0.042,"hi":0.072},{"panel":"pbar","x":2.67,"lo":0.094,"hi":0.13},
  {"panel":"lbar","x":1.53,"lo":0.0,"hi":0.045},{"panel":"lbar","x":0.84,"lo":0.0,"hi":0.026},{"panel":"lbar","x":3.89,"lo":0.19,"hi":0.207},{"panel":"lbar","x":2.83,"lo":0.128,"hi":0.145}
 ],
 "fit": [
  {"panel":"pip","x":0.0,"y":-0.008},{"panel":"pip","x":0.3,"y":0.022},{"panel":"pip","x":0.6,"y":0.062},{"panel":"pip","x":1.0,"y":0.092},{"panel":"pip","x":1.5,"y":0.113},{"panel":"pip","x":2.0,"y":0.127},{"panel":"pip","x":2.5,"y":0.135},{"panel":"pip","x":3.0,"y":0.139},{"panel":"pip","x":3.5,"y":0.141},{"panel":"pip","x":4.2,"y":0.141},
  {"panel":"kp","x":-0.05,"y":-0.012},{"panel":"kp","x":0.3,"y":0.012},{"panel":"kp","x":0.6,"y":0.037},{"panel":"kp","x":1.0,"y":0.075},{"panel":"kp","x":1.5,"y":0.105},{"panel":"kp","x":2.0,"y":0.118},{"panel":"kp","x":2.5,"y":0.123},{"panel":"kp","x":3.0,"y":0.1245},{"panel":"kp","x":4.2,"y":0.1245},
  {"panel":"pim","x":0.0,"y":-0.007},{"panel":"pim","x":0.3,"y":0.024},{"panel":"pim","x":0.6,"y":0.063},{"panel":"pim","x":1.0,"y":0.093},{"panel":"pim","x":1.5,"y":0.115},{"panel":"pim","x":2.0,"y":0.129},{"panel":"pim","x":2.5,"y":0.137},{"panel":"pim","x":3.0,"y":0.141},{"panel":"pim","x":3.5,"y":0.142},{"panel":"pim","x":4.2,"y":0.142},
  {"panel":"km","x":-0.05,"y":-0.012},{"panel":"km","x":0.3,"y":0.012},{"panel":"km","x":0.6,"y":0.040},{"panel":"km","x":1.0,"y":0.078},{"panel":"km","x":1.5,"y":0.107},{"panel":"km","x":2.0,"y":0.120},{"panel":"km","x":2.5,"y":0.125},{"panel":"km","x":3.0,"y":0.126},{"panel":"km","x":4.2,"y":0.126},
  {"panel":"p","x":0.0,"y":-0.016},{"panel":"p","x":0.3,"y":0.008},{"panel":"p","x":0.6,"y":0.030},{"panel":"p","x":1.0,"y":0.065},{"panel":"p","x":1.5,"y":0.108},{"panel":"p","x":2.0,"y":0.142},{"panel":"p","x":2.5,"y":0.163},{"panel":"p","x":3.0,"y":0.173},{"panel":"p","x":3.5,"y":0.177},{"panel":"p","x":4.3,"y":0.177},
  {"panel":"lam","x":-0.05,"y":-0.014},{"panel":"lam","x":0.3,"y":0.012},{"panel":"lam","x":0.6,"y":0.030},{"panel":"lam","x":1.0,"y":0.060},{"panel":"lam","x":1.5,"y":0.102},{"panel":"lam","x":2.0,"y":0.136},{"panel":"lam","x":2.5,"y":0.158},{"panel":"lam","x":3.0,"y":0.171},{"panel":"lam","x":3.5,"y":0.178},{"panel":"lam","x":4.2,"y":0.181},
  {"panel":"pbar","x":0.0,"y":-0.017},{"panel":"pbar","x":0.3,"y":0.003},{"panel":"pbar","x":0.6,"y":0.022},{"panel":"pbar","x":1.0,"y":0.058},{"panel":"pbar","x":1.5,"y":0.100},{"panel":"pbar","x":2.0,"y":0.134},{"panel":"pbar","x":2.5,"y":0.155},{"panel":"pbar","x":3.0,"y":0.164},{"panel":"pbar","x":3.5,"y":0.167},{"panel":"pbar","x":4.3,"y":0.167},
  {"panel":"lbar","x":-0.05,"y":-0.028},{"panel":"lbar","x":0.3,"y":-0.004},{"panel":"lbar","x":0.6,"y":0.016},{"panel":"lbar","x":1.0,"y":0.050},{"panel":"lbar","x":1.5,"y":0.090},{"panel":"lbar","x":2.0,"y":0.125},{"panel":"lbar","x":2.5,"y":0.152},{"panel":"lbar","x":3.0,"y":0.170},{"panel":"lbar","x":3.5,"y":0.181},{"panel":"lbar","x":4.2,"y":0.188}
 ],
 "leg": [
  {"panel":"pip","e":"7.7","x":3.01,"tx":3.2,"y":0.077,"t":"7.7"},{"panel":"pip","e":"11.5","x":3.03,"tx":3.2,"y":0.046,"t":"11.5"},{"panel":"pip","e":"19.6","x":3.03,"tx":3.2,"y":0.017,"t":"19.6"},
  {"panel":"pim","e":"27","x":3.01,"tx":3.2,"y":0.080,"t":"27"},{"panel":"pim","e":"39","x":3.01,"tx":3.2,"y":0.049,"t":"39"},{"panel":"pim","e":"62.4","x":3.01,"tx":3.2,"y":0.0164,"t":"62.4"}
 ],
 "labS": [
  {"panel":"pip","x":0.21,"y":0.185,"t":"π"},{"panel":"pim","x":0.21,"y":0.185,"t":"π"},{"panel":"lam","x":0.19,"y":0.187,"t":"Λ"},{"panel":"lbar","x":0.19,"y":0.187,"t":"Λ"}
 ],
 "labN": [
  {"panel":"pip","x":2.51,"y":0.192,"t":"Au+Au"},{"panel":"kp","x":0.19,"y":0.185,"t":"K"},{"panel":"kp","x":2.73,"y":0.192,"t":"0-80%"},{"panel":"km","x":0.19,"y":0.185,"t":"K"},{"panel":"p","x":0.21,"y":0.187,"t":"p"},{"panel":"pbar","x":0.21,"y":0.179,"t":"p"}
 ],
 "sup": [
  {"panel":"pip","x":0.56,"y":0.205,"t":"+"},{"panel":"kp","x":0.57,"y":0.199,"t":"+"},{"panel":"pim","x":0.56,"y":0.205,"t":"-"},{"panel":"km","x":0.53,"y":0.204,"t":"-"}
 ],
 "ovl": [
  {"panel":"pbar","x":0.17,"x2":0.53,"y":0.212},{"panel":"lbar","x":0.15,"x2":0.55,"y":0.2175}
 ]
},
"concat": [
 {"width":257,"height":276,"resolve":{"axis":{"x":"independent","y":"independent"}},"layer":[
  {"data":{"name":"zero"},"mark":{"type":"rule","strokeDash":[8,5],"strokeWidth":1.3,"color":"#1a1a1a"},"encoding":{"y":{"field":"y","type":"quantitative","scale":{"domain":[-0.071,0.23]},"axis":null}}},
  {"data":{"name":"fit"},"transform":[{"filter":"datum.panel==='pip'"}],"mark":{"type":"line","color":"#8c8c8c","strokeDash":[5,4],"strokeWidth":1.6,"clip":true},"encoding":{"x":{"field":"x","type":"quantitative","scale":{"domain":[-0.3,4.52]},"axis":{"orient":"bottom","values":[0,1,2,3,4],"tickSize":5,"title":null}},"y":{"field":"y","type":"quantitative","scale":{"domain":[-0.071,0.23]},"axis":{"orient":"left","values":[0,0.1,0.2],"tickSize":5,"labels":true,"format":".1~f","labelPadding":4,"title":null}}}},
  {"data":{"name":"err"},"transform":[{"filter":"datum.panel==='pip'"}],"mark":{"type":"rule","color":"#333","strokeWidth":1.5},"encoding":{"x":{"field":"x","type":"quantitative","scale":{"domain":[-0.3,4.52]},"axis":{"orient":"bottom","values":[0,1,2,3,4],"tickSize":-11,"title":null}},"y":{"field":"lo","type":"quantitative","scale":{"domain":[-0.071,0.23]},"axis":{"orient":"left","values":[0,0.1,0.2],"tickSize":-11,"title":null}},"y2":{"field":"hi"}}},
  {"data":{"name":"pts"},"transform":[{"filter":"datum.panel==='pip'"}],"mark":{"type":"point","filled":true,"size":190,"strokeWidth":1.5,"opacity":1},"encoding":{"x":{"field":"x","type":"quantitative","scale":{"domain":[-0.3,4.52]},"axis":{"orient":"bottom","values":[-0.2,0.2,0.4,0.6,0.8,1.2,1.4,1.6,1.8,2.2,2.4,2.6,2.8,3.2,3.4,3.6,3.8,4.2,4.4],"tickSize":-8,"title":null}},"y":{"field":"y","type":"quantitative","scale":{"domain":[-0.071,0.23]},"axis":{"orient":"left","values":[-0.06,-0.04,-0.02,0.02,0.04,0.06,0.08,0.12,0.14,0.16,0.18,0.22],"tickSize":-8,"title":null}},"shape":{"field":"e","type":"nominal","legend":null,"scale":{"domain":["7.7","11.5","19.6","27","39","62.4"],"range":["triangle-down","triangle-up","triangle-up","circle","circle","M0,-1L0.2245,-0.309L0.951,-0.309L0.363,0.118L0.588,0.809L0,0.382L-0.588,0.809L-0.363,0.118L-0.951,-0.309L-0.2245,-0.309Z"]}},"fill":{"field":"e","type":"nominal","legend":null,"scale":{"domain":["7.7","11.5","19.6","27","39","62.4"],"range":["#e31f26","#ffffff","#24a146","#3b6cb8","#ffffff","#a8479b"]}},"stroke":{"field":"e","type":"nominal","legend":null,"scale":{"domain":["7.7","11.5","19.6","27","39","62.4"],"range":["#1e1e1e","#e31f26","#1e1e1e","#1e1e1e","#8f8f8f","#a8479b"]}}}},
  {"data":{"name":"labS"},"transform":[{"filter":"datum.panel==='pip'"}],"mark":{"type":"text","align":"left","baseline":"alphabetic","font":"Liberation Serif","fontSize":32,"color":"#1a1a1a"},"encoding":{"x":{"field":"x","type":"quantitative","scale":{"domain":[-0.3,4.52]},"axis":{"orient":"top","values":[0,1,2,3,4],"tickSize":-11,"title":null}},"y":{"field":"y","type":"quantitative","scale":{"domain":[-0.071,0.23]},"axis":{"orient":"right","values":[0,0.1,0.2],"tickSize":-11,"title":null}},"text":{"field":"t"}}},
  {"data":{"name":"labN"},"transform":[{"filter":"datum.panel==='pip'"}],"mark":{"type":"text","align":"left","baseline":"alphabetic","font":"Liberation Sans","fontSize":30,"color":"#1a1a1a"},"encoding":{"x":{"field":"x","type":"quantitative","scale":{"domain":[-0.3,4.52]},"axis":{"orient":"top","values":[-0.2,0.2,0.4,0.6,0.8,1.2,1.4,1.6,1.8,2.2,2.4,2.6,2.8,3.2,3.4,3.6,3.8,4.2,4.4],"tickSize":-8,"title":null}},"y":{"field":"y","type":"quantitative","scale":{"domain":[-0.071,0.23]},"axis":{"orient":"right","values":[-0.06,-0.04,-0.02,0.02,0.04,0.06,0.08,0.12,0.14,0.16,0.18,0.22],"tickSize":-8,"title":null}},"text":{"field":"t"}}},
  {"data":{"name":"sup"},"transform":[{"filter":"datum.panel==='pip'"}],"mark":{"type":"text","align":"left","baseline":"alphabetic","font":"Liberation Sans","fontSize":17,"color":"#1a1a1a"},"encoding":{"x":{"field":"x","type":"quantitative","scale":{"domain":[-0.3,4.52]},"axis":null},"y":{"field":"y","type":"quantitative","scale":{"domain":[-0.071,0.23]},"axis":null},"text":{"field":"t"}}},
  {"data":{"name":"leg"},"transform":[{"filter":"datum.panel==='pip'"}],"mark":{"type":"point","filled":true,"size":190,"strokeWidth":1.5,"opacity":1},"encoding":{"x":{"field":"x","type":"quantitative","scale":{"domain":[-0.3,4.52]},"axis":null},"y":{"field":"y","type":"quantitative","scale":{"domain":[-0.071,0.23]},"axis":null},"shape":{"field":"e","type":"nominal","legend":null,"scale":{"domain":["7.7","11.5","19.6","27","39","62.4"],"range":["triangle-down","triangle-up","triangle-up","circle","circle","M0,-1L0.2245,-0.309L0.951,-0.309L0.363,0.118L0.588,0.809L0,0.382L-0.588,0.809L-0.363,0.118L-0.951,-0.309L-0.2245,-0.309Z"]}},"fill":{"field":"e","type":"nominal","legend":null,"scale":{"domain":["7.7","11.5","19.6","27","39","62.4"],"range":["#e31f26","#ffffff","#24a146","#3b6cb8","#ffffff","#a8479b"]}},"stroke":{"field":"e","type":"nominal","legend":null,"scale":{"domain":["7.7","11.5","19.6","27","39","62.4"],"range":["#1e1e1e","#e31f26","#1e1e1e","#1e1e1e","#8f8f8f","#a8479b"]}}}},
  {"data":{"name":"leg"},"transform":[{"filter":"datum.panel==='pip'"}],"mark":{"type":"text","align":"left","baseline":"middle","font":"Liberation Sans","fontSize":30,"color":"#1a1a1a"},"encoding":{"x":{"field":"tx","type":"quantitative","scale":{"domain":[-0.3,4.52]},"axis":null},"y":{"field":"y","type":"quantitative","scale":{"domain":[-0.071,0.23]},"axis":null},"text":{"field":"t"}}}
 ]},
 {"width":263,"height":276,"resolve":{"axis":{"x":"independent","y":"independent"}},"layer":[
  {"data":{"name":"zero"},"mark":{"type":"rule","strokeDash":[8,5],"strokeWidth":1.3,"color":"#1a1a1a"},"encoding":{"y":{"field":"y","type":"quantitative","scale":{"domain":[-0.071,0.23]},"axis":null}}},
  {"data":{"name":"fit"},"transform":[{"filter":"datum.panel==='kp'"}],"mark":{"type":"line","color":"#8c8c8c","strokeDash":[5,4],"strokeWidth":1.6,"clip":true},"encoding":{"x":{"field":"x","type":"quantitative","scale":{"domain":[-0.34,4.4]},"axis":{"orient":"bottom","values":[0,1,2,3,4],"tickSize":5,"title":null}},"y":{"field":"y","type":"quantitative","scale":{"domain":[-0.071,0.23]},"axis":{"orient":"left","values":[0,0.1,0.2],"tickSize":5,"title":null}}}},
  {"data":{"name":"err"},"transform":[{"filter":"datum.panel==='kp'"}],"mark":{"type":"rule","color":"#333","strokeWidth":1.5},"encoding":{"x":{"field":"x","type":"quantitative","scale":{"domain":[-0.34,4.4]},"axis":{"orient":"bottom","values":[0,1,2,3,4],"tickSize":-11,"title":null}},"y":{"field":"lo","type":"quantitative","scale":{"domain":[-0.071,0.23]},"axis":{"orient":"left","values":[0,0.1,0.2],"tickSize":-11,"title":null}},"y2":{"field":"hi"}}},
  {"data":{"name":"pts"},"transform":[{"filter":"datum.panel==='kp'"}],"mark":{"type":"point","filled":true,"size":190,"strokeWidth":1.5,"opacity":1},"encoding":{"x":{"field":"x","type":"quantitative","scale":{"domain":[-0.34,4.4]},"axis":{"orient":"bottom","values":[-0.2,0.2,0.4,0.6,0.8,1.2,1.4,1.6,1.8,2.2,2.4,2.6,2.8,3.2,3.4,3.6,3.8,4.2],"tickSize":-8,"title":null}},"y":{"field":"y","type":"quantitative","scale":{"domain":[-0.071,0.23]},"axis":{"orient":"left","values":[-0.06,-0.04,-0.02,0.02,0.04,0.06,0.08,0.12,0.14,0.16,0.18,0.22],"tickSize":-8,"title":null}},"shape":{"field":"e","type":"nominal","legend":null,"scale":{"domain":["7.7","11.5","19.6","27","39","62.4"],"range":["triangle-down","triangle-up","triangle-up","circle","circle","M0,-1L0.2245,-0.309L0.951,-0.309L0.363,0.118L0.588,0.809L0,0.382L-0.588,0.809L-0.363,0.118L-0.951,-0.309L-0.2245,-0.309Z"]}},"fill":{"field":"e","type":"nominal","legend":null,"scale":{"domain":["7.7","11.5","19.6","27","39","62.4"],"range":["#e31f26","#ffffff","#24a146","#3b6cb8","#ffffff","#a8479b"]}},"stroke":{"field":"e","type":"nominal","legend":null,"scale":{"domain":["7.7","11.5","19.6","27","39","62.4"],"range":["#1e1e1e","#e31f26","#1e1e1e","#1e1e1e","#8f8f8f","#a8479b"]}}}},
  {"data":{"name":"labS"},"transform":[{"filter":"datum.panel==='kp'"}],"mark":{"type":"text","align":"left","baseline":"alphabetic","font":"Liberation Serif","fontSize":32,"color":"#1a1a1a"},"encoding":{"x":{"field":"x","type":"quantitative","scale":{"domain":[-0.34,4.4]},"axis":{"orient":"top","values":[0,1,2,3,4],"tickSize":-11,"title":null}},"y":{"field":"y","type":"quantitative","scale":{"domain":[-0.071,0.23]},"axis":{"orient":"right","values":[0,0.1,0.2],"tickSize":-5,"title":null}},"text":{"field":"t"}}},
  {"data":{"name":"labN"},"transform":[{"filter":"datum.panel==='kp'"}],"mark":{"type":"text","align":"left","baseline":"alphabetic","font":"Liberation Sans","fontSize":30,"color":"#1a1a1a"},"encoding":{"x":{"field":"x","type":"quantitative","scale":{"domain":[-0.34,4.4]},"axis":{"orient":"top","values":[-0.2,0.2,0.4,0.6,0.8,1.2,1.4,1.6,1.8,2.2,2.4,2.6,2.8,3.2,3.4,3.6,3.8,4.2],"tickSize":-8,"title":null}},"y":{"field":"y","type":"quantitative","scale":{"domain":[-0.071,0.23]},"axis":{"orient":"right","values":[0.1],"ticks":false,"title":null}},"text":{"field":"t"}}},
  {"data":{"name":"sup"},"transform":[{"filter":"datum.panel==='kp'"}],"mark":{"type":"text","align":"left","baseline":"alphabetic","font":"Liberation Sans","fontSize":17,"color":"#1a1a1a"},"encoding":{"x":{"field":"x","type":"quantitative","scale":{"domain":[-0.34,4.4]},"axis":null},"y":{"field":"y","type":"quantitative","scale":{"domain":[-0.071,0.23]},"axis":null},"text":{"field":"t"}}}
 ]},
 {"width":257,"height":275,"resolve":{"axis":{"x":"independent","y":"independent"}},"layer":[
  {"data":{"name":"zero"},"mark":{"type":"rule","strokeDash":[8,5],"strokeWidth":1.3,"color":"#1a1a1a"},"encoding":{"y":{"field":"y","type":"quantitative","scale":{"domain":[-0.071,0.23]},"axis":null}}},
  {"data":{"name":"fit"},"transform":[{"filter":"datum.panel==='pim'"}],"mark":{"type":"line","color":"#8c8c8c","strokeDash":[5,4],"strokeWidth":1.6,"clip":true},"encoding":{"x":{"field":"x","type":"quantitative","scale":{"domain":[-0.3,4.52]},"axis":{"orient":"bottom","values":[0,1,2,3,4],"tickSize":5,"title":null}},"y":{"field":"y","type":"quantitative","scale":{"domain":[-0.071,0.23]},"axis":{"orient":"left","values":[0,0.1,0.2],"tickSize":5,"labels":true,"format":".1~f","labelPadding":4,"title":"v₂","titleFontSize":36,"titleAngle":270,"titleX":-80,"titleY":236,"titleAlign":"center","titleBaseline":"middle"}}}},
  {"data":{"name":"err"},"transform":[{"filter":"datum.panel==='pim'"}],"mark":{"type":"rule","color":"#333","strokeWidth":1.5},"encoding":{"x":{"field":"x","type":"quantitative","scale":{"domain":[-0.3,4.52]},"axis":{"orient":"bottom","values":[0,1,2,3,4],"tickSize":-11,"title":null}},"y":{"field":"lo","type":"quantitative","scale":{"domain":[-0.071,0.23]},"axis":{"orient":"left","values":[0,0.1,0.2],"tickSize":-11,"title":null}},"y2":{"field":"hi"}}},
  {"data":{"name":"pts"},"transform":[{"filter":"datum.panel==='pim'"}],"mark":{"type":"point","filled":true,"size":190,"strokeWidth":1.5,"opacity":1},"encoding":{"x":{"field":"x","type":"quantitative","scale":{"domain":[-0.3,4.52]},"axis":{"orient":"bottom","values":[-0.2,0.2,0.4,0.6,0.8,1.2,1.4,1.6,1.8,2.2,2.4,2.6,2.8,3.2,3.4,3.6,3.8,4.2,4.4],"tickSize":-8,"title":null}},"y":{"field":"y","type":"quantitative","scale":{"domain":[-0.071,0.23]},"axis":{"orient":"left","values":[-0.06,-0.04,-0.02,0.02,0.04,0.06,0.08,0.12,0.14,0.16,0.18,0.22],"tickSize":-8,"title":null}},"shape":{"field":"e","type":"nominal","legend":null,"scale":{"domain":["7.7","11.5","19.6","27","39","62.4"],"range":["triangle-down","triangle-up","triangle-up","circle","circle","M0,-1L0.2245,-0.309L0.951,-0.309L0.363,0.118L0.588,0.809L0,0.382L-0.588,0.809L-0.363,0.118L-0.951,-0.309L-0.2245,-0.309Z"]}},"fill":{"field":"e","type":"nominal","legend":null,"scale":{"domain":["7.7","11.5","19.6","27","39","62.4"],"range":["#e31f26","#ffffff","#24a146","#3b6cb8","#ffffff","#a8479b"]}},"stroke":{"field":"e","type":"nominal","legend":null,"scale":{"domain":["7.7","11.5","19.6","27","39","62.4"],"range":["#1e1e1e","#e31f26","#1e1e1e","#1e1e1e","#8f8f8f","#a8479b"]}}}},
  {"data":{"name":"labS"},"transform":[{"filter":"datum.panel==='pim'"}],"mark":{"type":"text","align":"left","baseline":"alphabetic","font":"Liberation Serif","fontSize":32,"color":"#1a1a1a"},"encoding":{"x":{"field":"x","type":"quantitative","scale":{"domain":[-0.3,4.52]},"axis":{"orient":"top","values":[0,1,2,3,4],"tickSize":-11,"title":null}},"y":{"field":"y","type":"quantitative","scale":{"domain":[-0.071,0.23]},"axis":{"orient":"right","values":[0,0.1,0.2],"tickSize":-11,"title":null}},"text":{"field":"t"}}},
  {"data":{"name":"labN"},"transform":[{"filter":"datum.panel==='pim'"}],"mark":{"type":"text","align":"left","baseline":"alphabetic","font":"Liberation Sans","fontSize":30,"color":"#1a1a1a"},"encoding":{"x":{"field":"x","type":"quantitative","scale":{"domain":[-0.3,4.52]},"axis":{"orient":"top","values":[-0.2,0.2,0.4,0.6,0.8,1.2,1.4,1.6,1.8,2.2,2.4,2.6,2.8,3.2,3.4,3.6,3.8,4.2,4.4],"tickSize":-8,"title":null}},"y":{"field":"y","type":"quantitative","scale":{"domain":[-0.071,0.23]},"axis":{"orient":"right","values":[-0.06,-0.04,-0.02,0.02,0.04,0.06,0.08,0.12,0.14,0.16,0.18,0.22],"tickSize":-8,"title":null}},"text":{"field":"t"}}},
  {"data":{"name":"sup"},"transform":[{"filter":"datum.panel==='pim'"}],"mark":{"type":"text","align":"left","baseline":"alphabetic","font":"Liberation Sans","fontSize":17,"color":"#1a1a1a"},"encoding":{"x":{"field":"x","type":"quantitative","scale":{"domain":[-0.3,4.52]},"axis":null},"y":{"field":"y","type":"quantitative","scale":{"domain":[-0.071,0.23]},"axis":null},"text":{"field":"t"}}},
  {"data":{"name":"leg"},"transform":[{"filter":"datum.panel==='pim'"}],"mark":{"type":"point","filled":true,"size":190,"strokeWidth":1.5,"opacity":1},"encoding":{"x":{"field":"x","type":"quantitative","scale":{"domain":[-0.3,4.52]},"axis":null},"y":{"field":"y","type":"quantitative","scale":{"domain":[-0.071,0.23]},"axis":null},"shape":{"field":"e","type":"nominal","legend":null,"scale":{"domain":["7.7","11.5","19.6","27","39","62.4"],"range":["triangle-down","triangle-up","triangle-up","circle","circle","M0,-1L0.2245,-0.309L0.951,-0.309L0.363,0.118L0.588,0.809L0,0.382L-0.588,0.809L-0.363,0.118L-0.951,-0.309L-0.2245,-0.309Z"]}},"fill":{"field":"e","type":"nominal","legend":null,"scale":{"domain":["7.7","11.5","19.6","27","39","62.4"],"range":["#e31f26","#ffffff","#24a146","#3b6cb8","#ffffff","#a8479b"]}},"stroke":{"field":"e","type":"nominal","legend":null,"scale":{"domain":["7.7","11.5","19.6","27","39","62.4"],"range":["#1e1e1e","#e31f26","#1e1e1e","#1e1e1e","#8f8f8f","#a8479b"]}}}},
  {"data":{"name":"leg"},"transform":[{"filter":"datum.panel==='pim'"}],"mark":{"type":"text","align":"left","baseline":"middle","font":"Liberation Sans","fontSize":30,"color":"#1a1a1a"},"encoding":{"x":{"field":"tx","type":"quantitative","scale":{"domain":[-0.3,4.52]},"axis":null},"y":{"field":"y","type":"quantitative","scale":{"domain":[-0.071,0.23]},"axis":null},"text":{"field":"t"}}}
 ]},
 {"width":263,"height":275,"resolve":{"axis":{"x":"independent","y":"independent"}},"layer":[
  {"data":{"name":"zero"},"mark":{"type":"rule","strokeDash":[8,5],"strokeWidth":1.3,"color":"#1a1a1a"},"encoding":{"y":{"field":"y","type":"quantitative","scale":{"domain":[-0.071,0.23]},"axis":null}}},
  {"data":{"name":"fit"},"transform":[{"filter":"datum.panel==='km'"}],"mark":{"type":"line","color":"#8c8c8c","strokeDash":[5,4],"strokeWidth":1.6,"clip":true},"encoding":{"x":{"field":"x","type":"quantitative","scale":{"domain":[-0.34,4.4]},"axis":{"orient":"bottom","values":[0,1,2,3,4],"tickSize":5,"title":null}},"y":{"field":"y","type":"quantitative","scale":{"domain":[-0.071,0.23]},"axis":{"orient":"left","values":[0,0.1,0.2],"tickSize":5,"title":null}}}},
  {"data":{"name":"err"},"transform":[{"filter":"datum.panel==='km'"}],"mark":{"type":"rule","color":"#333","strokeWidth":1.5},"encoding":{"x":{"field":"x","type":"quantitative","scale":{"domain":[-0.34,4.4]},"axis":{"orient":"bottom","values":[0,1,2,3,4],"tickSize":-11,"title":null}},"y":{"field":"lo","type":"quantitative","scale":{"domain":[-0.071,0.23]},"axis":{"orient":"left","values":[0,0.1,0.2],"tickSize":-11,"title":null}},"y2":{"field":"hi"}}},
  {"data":{"name":"pts"},"transform":[{"filter":"datum.panel==='km'"}],"mark":{"type":"point","filled":true,"size":190,"strokeWidth":1.5,"opacity":1},"encoding":{"x":{"field":"x","type":"quantitative","scale":{"domain":[-0.34,4.4]},"axis":{"orient":"bottom","values":[-0.2,0.2,0.4,0.6,0.8,1.2,1.4,1.6,1.8,2.2,2.4,2.6,2.8,3.2,3.4,3.6,3.8,4.2],"tickSize":-8,"title":null}},"y":{"field":"y","type":"quantitative","scale":{"domain":[-0.071,0.23]},"axis":{"orient":"left","values":[-0.06,-0.04,-0.02,0.02,0.04,0.06,0.08,0.12,0.14,0.16,0.18,0.22],"tickSize":-8,"title":null}},"shape":{"field":"e","type":"nominal","legend":null,"scale":{"domain":["7.7","11.5","19.6","27","39","62.4"],"range":["triangle-down","triangle-up","triangle-up","circle","circle","M0,-1L0.2245,-0.309L0.951,-0.309L0.363,0.118L0.588,0.809L0,0.382L-0.588,0.809L-0.363,0.118L-0.951,-0.309L-0.2245,-0.309Z"]}},"fill":{"field":"e","type":"nominal","legend":null,"scale":{"domain":["7.7","11.5","19.6","27","39","62.4"],"range":["#e31f26","#ffffff","#24a146","#3b6cb8","#ffffff","#a8479b"]}},"stroke":{"field":"e","type":"nominal","legend":null,"scale":{"domain":["7.7","11.5","19.6","27","39","62.4"],"range":["#1e1e1e","#e31f26","#1e1e1e","#1e1e1e","#8f8f8f","#a8479b"]}}}},
  {"data":{"name":"labS"},"transform":[{"filter":"datum.panel==='km'"}],"mark":{"type":"text","align":"left","baseline":"alphabetic","font":"Liberation Serif","fontSize":32,"color":"#1a1a1a"},"encoding":{"x":{"field":"x","type":"quantitative","scale":{"domain":[-0.34,4.4]},"axis":{"orient":"top","values":[0,1,2,3,4],"tickSize":-11,"title":null}},"y":{"field":"y","type":"quantitative","scale":{"domain":[-0.071,0.23]},"axis":{"orient":"right","values":[0,0.1,0.2],"tickSize":-5,"title":null}},"text":{"field":"t"}}},
  {"data":{"name":"labN"},"transform":[{"filter":"datum.panel==='km'"}],"mark":{"type":"text","align":"left","baseline":"alphabetic","font":"Liberation Sans","fontSize":30,"color":"#1a1a1a"},"encoding":{"x":{"field":"x","type":"quantitative","scale":{"domain":[-0.34,4.4]},"axis":{"orient":"top","values":[-0.2,0.2,0.4,0.6,0.8,1.2,1.4,1.6,1.8,2.2,2.4,2.6,2.8,3.2,3.4,3.6,3.8,4.2],"tickSize":-8,"title":null}},"y":{"field":"y","type":"quantitative","scale":{"domain":[-0.071,0.23]},"axis":{"orient":"right","values":[0.1],"ticks":false,"title":null}},"text":{"field":"t"}}},
  {"data":{"name":"sup"},"transform":[{"filter":"datum.panel==='km'"}],"mark":{"type":"text","align":"left","baseline":"alphabetic","font":"Liberation Sans","fontSize":17,"color":"#1a1a1a"},"encoding":{"x":{"field":"x","type":"quantitative","scale":{"domain":[-0.34,4.4]},"axis":null},"y":{"field":"y","type":"quantitative","scale":{"domain":[-0.071,0.23]},"axis":null},"text":{"field":"t"}}}
 ]},
 {"width":257,"height":275,"resolve":{"axis":{"x":"independent","y":"independent"}},"layer":[
  {"data":{"name":"zero"},"mark":{"type":"rule","strokeDash":[8,5],"strokeWidth":1.3,"color":"#1a1a1a"},"encoding":{"y":{"field":"y","type":"quantitative","scale":{"domain":[-0.071,0.23]},"axis":null}}},
  {"data":{"name":"fit"},"transform":[{"filter":"datum.panel==='p'"}],"mark":{"type":"line","color":"#8c8c8c","strokeDash":[5,4],"strokeWidth":1.6,"clip":true},"encoding":{"x":{"field":"x","type":"quantitative","scale":{"domain":[-0.3,4.52]},"axis":{"orient":"bottom","values":[0,1,2,3,4],"tickSize":5,"title":null}},"y":{"field":"y","type":"quantitative","scale":{"domain":[-0.071,0.23]},"axis":{"orient":"left","values":[0,0.1,0.2],"tickSize":5,"labels":true,"format":".1~f","labelPadding":4,"title":null}}}},
  {"data":{"name":"err"},"transform":[{"filter":"datum.panel==='p'"}],"mark":{"type":"rule","color":"#333","strokeWidth":1.5},"encoding":{"x":{"field":"x","type":"quantitative","scale":{"domain":[-0.3,4.52]},"axis":{"orient":"bottom","values":[0,1,2,3,4],"tickSize":-11,"title":null}},"y":{"field":"lo","type":"quantitative","scale":{"domain":[-0.071,0.23]},"axis":{"orient":"left","values":[0,0.1,0.2],"tickSize":-11,"title":null}},"y2":{"field":"hi"}}},
  {"data":{"name":"pts"},"transform":[{"filter":"datum.panel==='p'"}],"mark":{"type":"point","filled":true,"size":190,"strokeWidth":1.5,"opacity":1},"encoding":{"x":{"field":"x","type":"quantitative","scale":{"domain":[-0.3,4.52]},"axis":{"orient":"bottom","values":[-0.2,0.2,0.4,0.6,0.8,1.2,1.4,1.6,1.8,2.2,2.4,2.6,2.8,3.2,3.4,3.6,3.8,4.2,4.4],"tickSize":-8,"title":null}},"y":{"field":"y","type":"quantitative","scale":{"domain":[-0.071,0.23]},"axis":{"orient":"left","values":[-0.06,-0.04,-0.02,0.02,0.04,0.06,0.08,0.12,0.14,0.16,0.18,0.22],"tickSize":-8,"title":null}},"shape":{"field":"e","type":"nominal","legend":null,"scale":{"domain":["7.7","11.5","19.6","27","39","62.4"],"range":["triangle-down","triangle-up","triangle-up","circle","circle","M0,-1L0.2245,-0.309L0.951,-0.309L0.363,0.118L0.588,0.809L0,0.382L-0.588,0.809L-0.363,0.118L-0.951,-0.309L-0.2245,-0.309Z"]}},"fill":{"field":"e","type":"nominal","legend":null,"scale":{"domain":["7.7","11.5","19.6","27","39","62.4"],"range":["#e31f26","#ffffff","#24a146","#3b6cb8","#ffffff","#a8479b"]}},"stroke":{"field":"e","type":"nominal","legend":null,"scale":{"domain":["7.7","11.5","19.6","27","39","62.4"],"range":["#1e1e1e","#e31f26","#1e1e1e","#1e1e1e","#8f8f8f","#a8479b"]}}}},
  {"data":{"name":"labS"},"transform":[{"filter":"datum.panel==='p'"}],"mark":{"type":"text","align":"left","baseline":"alphabetic","font":"Liberation Serif","fontSize":32,"color":"#1a1a1a"},"encoding":{"x":{"field":"x","type":"quantitative","scale":{"domain":[-0.3,4.52]},"axis":{"orient":"top","values":[0,1,2,3,4],"tickSize":-11,"title":null}},"y":{"field":"y","type":"quantitative","scale":{"domain":[-0.071,0.23]},"axis":{"orient":"right","values":[0,0.1,0.2],"tickSize":-11,"title":null}},"text":{"field":"t"}}},
  {"data":{"name":"labN"},"transform":[{"filter":"datum.panel==='p'"}],"mark":{"type":"text","align":"left","baseline":"alphabetic","font":"Liberation Sans","fontSize":32,"color":"#1a1a1a"},"encoding":{"x":{"field":"x","type":"quantitative","scale":{"domain":[-0.3,4.52]},"axis":{"orient":"top","values":[-0.2,0.2,0.4,0.6,0.8,1.2,1.4,1.6,1.8,2.2,2.4,2.6,2.8,3.2,3.4,3.6,3.8,4.2,4.4],"tickSize":-8,"title":null}},"y":{"field":"y","type":"quantitative","scale":{"domain":[-0.071,0.23]},"axis":{"orient":"right","values":[-0.06,-0.04,-0.02,0.02,0.04,0.06,0.08,0.12,0.14,0.16,0.18,0.22],"tickSize":-8,"title":null}},"text":{"field":"t"}}}
 ]},
 {"width":263,"height":275,"resolve":{"axis":{"x":"independent","y":"independent"}},"layer":[
  {"data":{"name":"zero"},"mark":{"type":"rule","strokeDash":[8,5],"strokeWidth":1.3,"color":"#1a1a1a"},"encoding":{"y":{"field":"y","type":"quantitative","scale":{"domain":[-0.071,0.23]},"axis":null}}},
  {"data":{"name":"fit"},"transform":[{"filter":"datum.panel==='lam'"}],"mark":{"type":"line","color":"#8c8c8c","strokeDash":[5,4],"strokeWidth":1.6,"clip":true},"encoding":{"x":{"field":"x","type":"quantitative","scale":{"domain":[-0.34,4.4]},"axis":{"orient":"bottom","values":[0,1,2,3,4],"tickSize":5,"title":null}},"y":{"field":"y","type":"quantitative","scale":{"domain":[-0.071,0.23]},"axis":{"orient":"left","values":[0,0.1,0.2],"tickSize":5,"title":null}}}},
  {"data":{"name":"err"},"transform":[{"filter":"datum.panel==='lam'"}],"mark":{"type":"rule","color":"#333","strokeWidth":1.5},"encoding":{"x":{"field":"x","type":"quantitative","scale":{"domain":[-0.34,4.4]},"axis":{"orient":"bottom","values":[0,1,2,3,4],"tickSize":-11,"title":null}},"y":{"field":"lo","type":"quantitative","scale":{"domain":[-0.071,0.23]},"axis":{"orient":"left","values":[0,0.1,0.2],"tickSize":-11,"title":null}},"y2":{"field":"hi"}}},
  {"data":{"name":"pts"},"transform":[{"filter":"datum.panel==='lam'"}],"mark":{"type":"point","filled":true,"size":190,"strokeWidth":1.5,"opacity":1},"encoding":{"x":{"field":"x","type":"quantitative","scale":{"domain":[-0.34,4.4]},"axis":{"orient":"bottom","values":[-0.2,0.2,0.4,0.6,0.8,1.2,1.4,1.6,1.8,2.2,2.4,2.6,2.8,3.2,3.4,3.6,3.8,4.2],"tickSize":-8,"title":null}},"y":{"field":"y","type":"quantitative","scale":{"domain":[-0.071,0.23]},"axis":{"orient":"left","values":[-0.06,-0.04,-0.02,0.02,0.04,0.06,0.08,0.12,0.14,0.16,0.18,0.22],"tickSize":-8,"title":null}},"shape":{"field":"e","type":"nominal","legend":null,"scale":{"domain":["7.7","11.5","19.6","27","39","62.4"],"range":["triangle-down","triangle-up","triangle-up","circle","circle","M0,-1L0.2245,-0.309L0.951,-0.309L0.363,0.118L0.588,0.809L0,0.382L-0.588,0.809L-0.363,0.118L-0.951,-0.309L-0.2245,-0.309Z"]}},"fill":{"field":"e","type":"nominal","legend":null,"scale":{"domain":["7.7","11.5","19.6","27","39","62.4"],"range":["#e31f26","#ffffff","#24a146","#3b6cb8","#ffffff","#a8479b"]}},"stroke":{"field":"e","type":"nominal","legend":null,"scale":{"domain":["7.7","11.5","19.6","27","39","62.4"],"range":["#1e1e1e","#e31f26","#1e1e1e","#1e1e1e","#8f8f8f","#a8479b"]}}}},
  {"data":{"name":"labS"},"transform":[{"filter":"datum.panel==='lam'"}],"mark":{"type":"text","align":"left","baseline":"alphabetic","font":"Liberation Serif","fontSize":32,"color":"#1a1a1a"},"encoding":{"x":{"field":"x","type":"quantitative","scale":{"domain":[-0.34,4.4]},"axis":{"orient":"top","values":[0,1,2,3,4],"tickSize":-11,"title":null}},"y":{"field":"y","type":"quantitative","scale":{"domain":[-0.071,0.23]},"axis":{"orient":"right","values":[0,0.1,0.2],"tickSize":-5,"title":null}},"text":{"field":"t"}}},
  {"data":{"name":"labN"},"transform":[{"filter":"datum.panel==='lam'"}],"mark":{"type":"text","align":"left","baseline":"alphabetic","font":"Liberation Sans","fontSize":30,"color":"#1a1a1a"},"encoding":{"x":{"field":"x","type":"quantitative","scale":{"domain":[-0.34,4.4]},"axis":{"orient":"top","values":[-0.2,0.2,0.4,0.6,0.8,1.2,1.4,1.6,1.8,2.2,2.4,2.6,2.8,3.2,3.4,3.6,3.8,4.2],"tickSize":-8,"title":null}},"y":{"field":"y","type":"quantitative","scale":{"domain":[-0.071,0.23]},"axis":{"orient":"right","values":[0.1],"ticks":false,"title":null}},"text":{"field":"t"}}}
 ]},
 {"width":257,"height":260,"resolve":{"axis":{"x":"independent","y":"independent"}},"layer":[
  {"data":{"name":"zero"},"mark":{"type":"rule","strokeDash":[8,5],"strokeWidth":1.3,"color":"#1a1a1a"},"encoding":{"y":{"field":"y","type":"quantitative","scale":{"domain":[-0.071,0.23]},"axis":null}}},
  {"data":{"name":"fit"},"transform":[{"filter":"datum.panel==='pbar'"}],"mark":{"type":"line","color":"#8c8c8c","strokeDash":[5,4],"strokeWidth":1.6,"clip":true},"encoding":{"x":{"field":"x","type":"quantitative","scale":{"domain":[-0.3,4.52]},"axis":{"orient":"bottom","values":[0,1,2,3,4],"tickSize":5,"labels":true,"format":"d","labelPadding":10,"title":"p","titleFontSize":40,"titleX":136,"titleY":93,"titleAlign":"left","titleBaseline":"alphabetic"}},"y":{"field":"y","type":"quantitative","scale":{"domain":[-0.071,0.23]},"axis":{"orient":"left","values":[0,0.1,0.2],"tickSize":5,"labels":true,"format":".1~f","labelPadding":4,"title":null}}}},
  {"data":{"name":"err"},"transform":[{"filter":"datum.panel==='pbar'"}],"mark":{"type":"rule","color":"#333","strokeWidth":1.5},"encoding":{"x":{"field":"x","type":"quantitative","scale":{"domain":[-0.3,4.52]},"axis":{"orient":"bottom","values":[0,1,2,3,4],"tickSize":-11,"title":"T","titleFontSize":22,"titleX":163,"titleY":102,"titleAlign":"left","titleBaseline":"alphabetic"}},"y":{"field":"lo","type":"quantitative","scale":{"domain":[-0.071,0.23]},"axis":{"orient":"left","values":[0,0.1,0.2],"tickSize":-11,"title":null}},"y2":{"field":"hi"}}},
  {"data":{"name":"pts"},"transform":[{"filter":"datum.panel==='pbar'"}],"mark":{"type":"point","filled":true,"size":190,"strokeWidth":1.5,"opacity":1},"encoding":{"x":{"field":"x","type":"quantitative","scale":{"domain":[-0.3,4.52]},"axis":{"orient":"bottom","values":[-0.2,0.2,0.4,0.6,0.8,1.2,1.4,1.6,1.8,2.2,2.4,2.6,2.8,3.2,3.4,3.6,3.8,4.2,4.4],"tickSize":-8,"title":"(GeV/c)","titleFontSize":44,"titleX":190,"titleY":93,"titleAlign":"left","titleBaseline":"alphabetic"}},"y":{"field":"y","type":"quantitative","scale":{"domain":[-0.071,0.23]},"axis":{"orient":"left","values":[-0.06,-0.04,-0.02,0.02,0.04,0.06,0.08,0.12,0.14,0.16,0.18,0.22],"tickSize":-8,"title":null}},"shape":{"field":"e","type":"nominal","legend":null,"scale":{"domain":["7.7","11.5","19.6","27","39","62.4"],"range":["triangle-down","triangle-up","triangle-up","circle","circle","M0,-1L0.2245,-0.309L0.951,-0.309L0.363,0.118L0.588,0.809L0,0.382L-0.588,0.809L-0.363,0.118L-0.951,-0.309L-0.2245,-0.309Z"]}},"fill":{"field":"e","type":"nominal","legend":null,"scale":{"domain":["7.7","11.5","19.6","27","39","62.4"],"range":["#e31f26","#ffffff","#24a146","#3b6cb8","#ffffff","#a8479b"]}},"stroke":{"field":"e","type":"nominal","legend":null,"scale":{"domain":["7.7","11.5","19.6","27","39","62.4"],"range":["#1e1e1e","#e31f26","#1e1e1e","#1e1e1e","#8f8f8f","#a8479b"]}}}},
  {"data":{"name":"labS"},"transform":[{"filter":"datum.panel==='pbar'"}],"mark":{"type":"text","align":"left","baseline":"alphabetic","font":"Liberation Serif","fontSize":32,"color":"#1a1a1a"},"encoding":{"x":{"field":"x","type":"quantitative","scale":{"domain":[-0.3,4.52]},"axis":{"orient":"top","values":[0,1,2,3,4],"tickSize":-11,"title":null}},"y":{"field":"y","type":"quantitative","scale":{"domain":[-0.071,0.23]},"axis":{"orient":"right","values":[0,0.1,0.2],"tickSize":-11,"title":null}},"text":{"field":"t"}}},
  {"data":{"name":"labN"},"transform":[{"filter":"datum.panel==='pbar'"}],"mark":{"type":"text","align":"left","baseline":"alphabetic","font":"Liberation Sans","fontSize":32,"color":"#1a1a1a"},"encoding":{"x":{"field":"x","type":"quantitative","scale":{"domain":[-0.3,4.52]},"axis":{"orient":"top","values":[-0.2,0.2,0.4,0.6,0.8,1.2,1.4,1.6,1.8,2.2,2.4,2.6,2.8,3.2,3.4,3.6,3.8,4.2,4.4],"tickSize":-8,"title":null}},"y":{"field":"y","type":"quantitative","scale":{"domain":[-0.071,0.23]},"axis":{"orient":"right","values":[-0.06,-0.04,-0.02,0.02,0.04,0.06,0.08,0.12,0.14,0.16,0.18,0.22],"tickSize":-8,"title":null}},"text":{"field":"t"}}},
  {"data":{"name":"ovl"},"transform":[{"filter":"datum.panel==='pbar'"}],"mark":{"type":"rule","strokeWidth":2.2,"color":"#1a1a1a"},"encoding":{"x":{"field":"x","type":"quantitative","scale":{"domain":[-0.3,4.52]},"axis":null},"x2":{"field":"x2"},"y":{"field":"y","type":"quantitative","scale":{"domain":[-0.071,0.23]},"axis":null}}}
 ]},
 {"width":263,"height":260,"resolve":{"axis":{"x":"independent","y":"independent"}},"layer":[
  {"data":{"name":"zero"},"mark":{"type":"rule","strokeDash":[8,5],"strokeWidth":1.3,"color":"#1a1a1a"},"encoding":{"y":{"field":"y","type":"quantitative","scale":{"domain":[-0.071,0.23]},"axis":null}}},
  {"data":{"name":"fit"},"transform":[{"filter":"datum.panel==='lbar'"}],"mark":{"type":"line","color":"#8c8c8c","strokeDash":[5,4],"strokeWidth":1.6,"clip":true},"encoding":{"x":{"field":"x","type":"quantitative","scale":{"domain":[-0.34,4.4]},"axis":{"orient":"bottom","values":[0,1,2,3,4],"tickSize":5,"labels":true,"format":"d","labelPadding":10,"title":null}},"y":{"field":"y","type":"quantitative","scale":{"domain":[-0.071,0.23]},"axis":{"orient":"left","values":[0,0.1,0.2],"tickSize":5,"title":null}}}},
  {"data":{"name":"err"},"transform":[{"filter":"datum.panel==='lbar'"}],"mark":{"type":"rule","color":"#333","strokeWidth":1.5},"encoding":{"x":{"field":"x","type":"quantitative","scale":{"domain":[-0.34,4.4]},"axis":{"orient":"bottom","values":[0,1,2,3,4],"tickSize":-11,"title":null}},"y":{"field":"lo","type":"quantitative","scale":{"domain":[-0.071,0.23]},"axis":{"orient":"left","values":[0,0.1,0.2],"tickSize":-11,"title":null}},"y2":{"field":"hi"}}},
  {"data":{"name":"pts"},"transform":[{"filter":"datum.panel==='lbar'"}],"mark":{"type":"point","filled":true,"size":190,"strokeWidth":1.5,"opacity":1},"encoding":{"x":{"field":"x","type":"quantitative","scale":{"domain":[-0.34,4.4]},"axis":{"orient":"bottom","values":[-0.2,0.2,0.4,0.6,0.8,1.2,1.4,1.6,1.8,2.2,2.4,2.6,2.8,3.2,3.4,3.6,3.8,4.2],"tickSize":-8,"title":null}},"y":{"field":"y","type":"quantitative","scale":{"domain":[-0.071,0.23]},"axis":{"orient":"left","values":[-0.06,-0.04,-0.02,0.02,0.04,0.06,0.08,0.12,0.14,0.16,0.18,0.22],"tickSize":-8,"title":null}},"shape":{"field":"e","type":"nominal","legend":null,"scale":{"domain":["7.7","11.5","19.6","27","39","62.4"],"range":["triangle-down","triangle-up","triangle-up","circle","circle","M0,-1L0.2245,-0.309L0.951,-0.309L0.363,0.118L0.588,0.809L0,0.382L-0.588,0.809L-0.363,0.118L-0.951,-0.309L-0.2245,-0.309Z"]}},"fill":{"field":"e","type":"nominal","legend":null,"scale":{"domain":["7.7","11.5","19.6","27","39","62.4"],"range":["#e31f26","#ffffff","#24a146","#3b6cb8","#ffffff","#a8479b"]}},"stroke":{"field":"e","type":"nominal","legend":null,"scale":{"domain":["7.7","11.5","19.6","27","39","62.4"],"range":["#1e1e1e","#e31f26","#1e1e1e","#1e1e1e","#8f8f8f","#a8479b"]}}}},
  {"data":{"name":"labS"},"transform":[{"filter":"datum.panel==='lbar'"}],"mark":{"type":"text","align":"left","baseline":"alphabetic","font":"Liberation Serif","fontSize":32,"color":"#1a1a1a"},"encoding":{"x":{"field":"x","type":"quantitative","scale":{"domain":[-0.34,4.4]},"axis":{"orient":"top","values":[0,1,2,3,4],"tickSize":-11,"title":null}},"y":{"field":"y","type":"quantitative","scale":{"domain":[-0.071,0.23]},"axis":{"orient":"right","values":[0,0.1,0.2],"tickSize":-5,"title":null}},"text":{"field":"t"}}},
  {"data":{"name":"labN"},"transform":[{"filter":"datum.panel==='lbar'"}],"mark":{"type":"text","align":"left","baseline":"alphabetic","font":"Liberation Sans","fontSize":30,"color":"#1a1a1a"},"encoding":{"x":{"field":"x","type":"quantitative","scale":{"domain":[-0.34,4.4]},"axis":{"orient":"top","values":[-0.2,0.2,0.4,0.6,0.8,1.2,1.4,1.6,1.8,2.2,2.4,2.6,2.8,3.2,3.4,3.6,3.8,4.2],"tickSize":-8,"title":null}},"y":{"field":"y","type":"quantitative","scale":{"domain":[-0.071,0.23]},"axis":{"orient":"right","values":[0.1],"ticks":false,"title":null}},"text":{"field":"t"}}},
  {"data":{"name":"ovl"},"transform":[{"filter":"datum.panel==='lbar'"}],"mark":{"type":"rule","strokeWidth":2.2,"color":"#1a1a1a"},"encoding":{"x":{"field":"x","type":"quantitative","scale":{"domain":[-0.34,4.4]},"axis":null},"x2":{"field":"x2"},"y":{"field":"y","type":"quantitative","scale":{"domain":[-0.071,0.23]},"axis":null}}}
 ]}
],
"columns": 2,
"spacing": 0,
"bounds": "flush",
"align": "each"
}
